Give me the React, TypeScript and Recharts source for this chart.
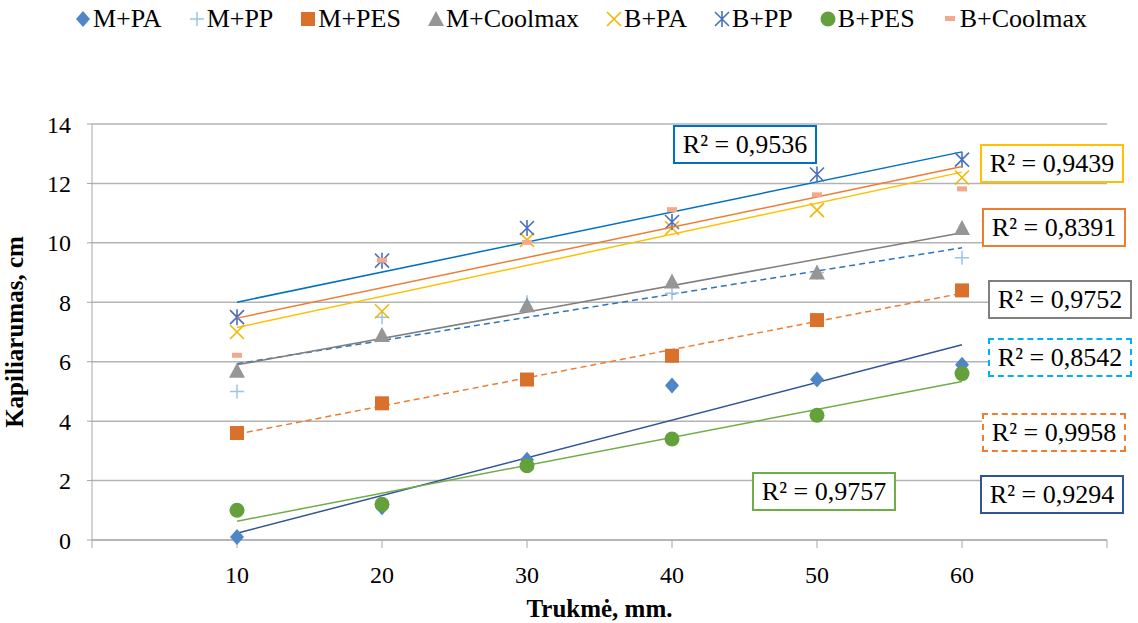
import { ComposedChart, Scatter, XAxis, YAxis, CartesianGrid } from "recharts";

// Trukmė (x), mm.
const durations = [10, 20, 30, 40, 50, 60];

// Kapiliarumas, cm
const mPA = [0.1, 1.1, 2.7, 5.2, 5.4, 5.9];
const mPP = [5.0, 7.5, 8.0, 8.3, 9.0, 9.5];
const mPES = [3.6, 4.6, 5.4, 6.2, 7.4, 8.4];
const mCoolmax = [5.7, 6.9, 7.9, 8.7, 9.0, 10.5];
const bPA = [7.0, 7.7, 10.1, 10.5, 11.1, 12.2];
const bPP = [7.5, 9.4, 10.5, 10.7, 12.3, 12.8];
const bPES = [1.0, 1.2, 2.5, 3.4, 4.2, 5.6];
const bCoolmax = [6.2, 9.4, 10.0, 11.1, 11.6, 11.8];

const xTicks = [0, 10, 20, 30, 40, 50, 60, 70];
const yTicks = [0, 2, 4, 6, 8, 10, 12, 14];

// R² labels for trend lines
const r2Labels = ["0,9536", "0,9439", "0,8391", "0,9752", "0,8542", "0,9958", "0,9757", "0,9294"];

const FONT = "Liberation Serif, DejaVu Serif, serif";

type Kind = "diamond" | "plus" | "square" | "triangle" | "x" | "asterisk" | "circle" | "dash";

const series: { name: string; values: number[]; kind: Kind; color: string; trend: string; dashed?: boolean }[] = [
    { name: "M+PA", values: mPA, kind: "diamond", color: "#4f86c6", trend: "#2f5597" },
    { name: "M+PP", values: mPP, kind: "plus", color: "#9dc3e6", trend: "#2e75b6", dashed: true },
    { name: "M+PES", values: mPES, kind: "square", color: "#d9702b", trend: "#ed7d31", dashed: true },
    { name: "M+Coolmax", values: mCoolmax, kind: "triangle", color: "#969696", trend: "#7f7f7f" },
    { name: "B+PA", values: bPA, kind: "x", color: "#f2b705", trend: "#ffc000" },
    { name: "B+PP", values: bPP, kind: "asterisk", color: "#4a6fbf", trend: "#0070c0" },
    { name: "B+PES", values: bPES, kind: "circle", color: "#64a03c", trend: "#70ad47" },
    { name: "B+Coolmax", values: bCoolmax, kind: "dash", color: "#f4a98a", trend: "#ed7d31" },
];

// box colors / placement for R² labels (same order as r2Labels)
const r2Boxes = [
    { left: 673, top: 125, border: "#0070c0" },
    { left: 980, top: 144, border: "#ffc000" },
    { left: 982, top: 208, border: "#ed7d31" },
    { left: 988, top: 280, border: "#7f7f7f" },
    { left: 988, top: 338, border: "#00b0f0", dashed: true },
    { left: 982, top: 413, border: "#ed7d31", dashed: true },
    { left: 752, top: 472, border: "#70ad47" },
    { left: 980, top: 475, border: "#2f5597" },
];

function Marker({ cx, cy, kind, color }: { cx: number; cy: number; kind: Kind; color: string }) {
    const s = 7;
    switch (kind) {
        case "diamond":
            return <path d={`M${cx},${cy - s - 1}L${cx + s},${cy}L${cx},${cy + s + 1}L${cx - s},${cy}Z`} fill={color} />;
        case "plus":
            return <path d={`M${cx - s},${cy}H${cx + s}M${cx},${cy - s}V${cy + s}`} stroke={color} strokeWidth={1.5} fill="none" />;
        case "square":
            return <rect x={cx - s} y={cy - s} width={2 * s} height={2 * s} fill={color} />;
        case "triangle":
            return <path d={`M${cx},${cy - s - 1}L${cx + s + 1},${cy + s}L${cx - s - 1},${cy + s}Z`} fill={color} />;
        case "x":
            return <path d={`M${cx - s},${cy - s}L${cx + s},${cy + s}M${cx + s},${cy - s}L${cx - s},${cy + s}`} stroke={color} strokeWidth={1.6} fill="none" />;
        case "asterisk":
            return (
                <path
                    d={`M${cx - s},${cy - s}L${cx + s},${cy + s}M${cx + s},${cy - s}L${cx - s},${cy + s}M${cx},${cy - s - 1}V${cy + s + 1}`}
                    stroke={color}
                    strokeWidth={1.6}
                    fill="none"
                />
            );
        case "circle":
            return <circle cx={cx} cy={cy} r={s + 0.5} fill={color} />;
        case "dash":
            return <rect x={cx - 5} y={cy - 3} width={10} height={5} fill={color} />;
    }
}

export default function App() {
    return (
        <div style={{ position: "relative", width: 1138, height: 623, background: "#fff", fontFamily: FONT }}>
            <style>{`body{margin:0}`}</style>

            {/* legend */}
            <div
                style={{
                    position: "absolute",
                    top: 4,
                    left: 12,
                    width: 1138,
                    display: "flex",
                    justifyContent: "center",
                    gap: 27,
                    fontSize: 26,
                    color: "#000",
                }}
            >
                {series.map(s => (
                    <div key={s.name} style={{ display: "flex", alignItems: "center" }}>
                        <svg width={16} height={20} style={{ marginRight: 2 }}>
                            <Marker cx={8} cy={10} kind={s.kind} color={s.color} />
                        </svg>
                        <span>{s.name}</span>
                    </div>
                ))}
            </div>

            <ComposedChart width={1138} height={623} margin={{ top: 124, right: 31, bottom: 0, left: 0 }}>
                <CartesianGrid horizontal vertical={false} stroke="#b3b3b3" strokeWidth={1.5} />
                <XAxis
                    type="number"
                    dataKey="x"
                    domain={[0, 70]}
                    ticks={xTicks}
                    tickFormatter={v => (v === 0 || v === 70 ? "" : String(v))}
                    height={83}
                    stroke="#a6a6a6"
                    tickSize={8}
                    tickMargin={18}
                    tick={{ fill: "#000", fontSize: 24, fontFamily: FONT }}
                    label={{
                        value: "Trukmė, mm.",
                        position: "insideBottom",
                        offset: 6,
                        style: { fill: "#000", fontSize: 25, fontWeight: "bold", fontFamily: FONT },
                    }}
                />
                <YAxis
                    type="number"
                    dataKey="y"
                    domain={[0, 14]}
                    ticks={yTicks}
                    width={92}
                    stroke="#a6a6a6"
                    tickSize={5}
                    tickMargin={16}
                    tick={{ fill: "#000", fontSize: 24, fontFamily: FONT }}
                    label={{
                        value: "Kapiliarumas, cm",
                        angle: -90,
                        position: "insideLeft",
                        offset: 14,
                        style: { textAnchor: "middle", fill: "#000", fontSize: 25, fontWeight: "bold", fontFamily: FONT },
                    }}
                />
                {series.map(s => (
                    <Scatter
                        key={s.name}
                        name={s.name}
                        data={durations.map((x, i) => ({ x, y: s.values[i] }))}
                        isAnimationActive={false}
                        lineType="fitting"
                        line={{ stroke: s.trend, strokeWidth: 1.5, strokeDasharray: s.dashed ? "6 4" : undefined }}
                        shape={(p: any) => <Marker cx={p.cx} cy={p.cy} kind={s.kind} color={s.color} />}
                    />
                ))}
            </ComposedChart>

            {/* R² labels */}
            {r2Boxes.map((b, i) => (
                <div
                    key={i}
                    style={{
                        position: "absolute",
                        left: b.left,
                        top: b.top,
                        width: 140,
                        height: 35,
                        border: `2px ${b.dashed ? "dashed" : "solid"} ${b.border}`,
                        background: "#fff",
                        display: "flex",
                        alignItems: "center",
                        justifyContent: "center",
                        fontSize: 26,
                        color: "#000",
                    }}
                >
                    R² = {r2Labels[i]}
                </div>
            ))}
        </div>
    );
}
